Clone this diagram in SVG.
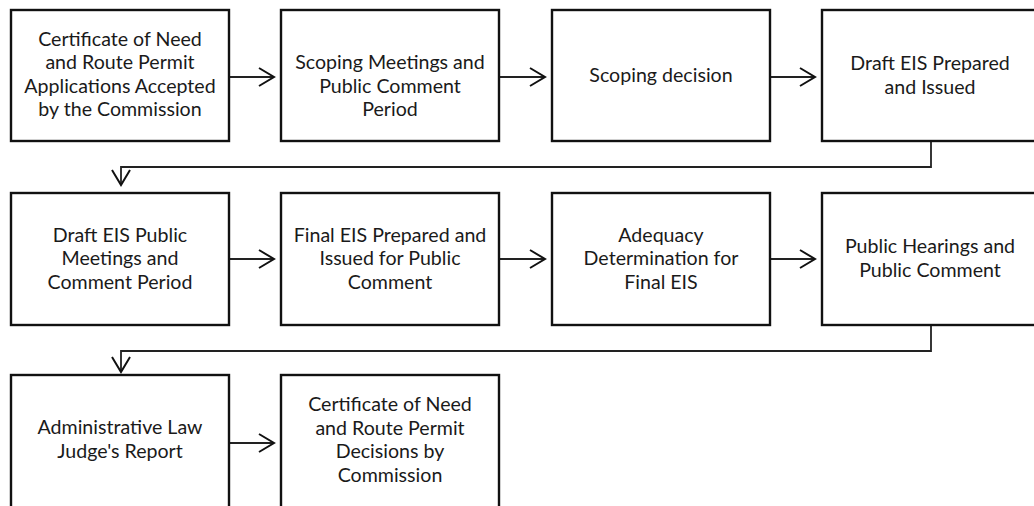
<svg xmlns="http://www.w3.org/2000/svg" width="1034" height="506" viewBox="0 0 1034 506">
<defs>
<style>
.box{fill:#fff;stroke:#111;stroke-width:2.4}
.t{font-family:Lato,"Liberation Sans",sans-serif;font-size:19.6px;fill:#1a1a1a;text-anchor:middle}
.c{fill:none;stroke:#222;stroke-width:1.8}
.ah{fill:none;stroke:#111;stroke-width:2}
</style>
<marker id="arr" viewBox="0 0 20 20" refX="17" refY="10" markerWidth="20" markerHeight="20" markerUnits="userSpaceOnUse" orient="auto">
<path d="M2,1 L17,10 L2,19" class="ah"/>
</marker>
</defs>
<rect width="1034" height="506" fill="#fff"/>
<g id="connectors">
<line class="c" x1="229" y1="77" x2="274" y2="77" marker-end="url(#arr)"/>
<line class="c" x1="499" y1="77" x2="545" y2="77" marker-end="url(#arr)"/>
<line class="c" x1="770" y1="77" x2="815" y2="77" marker-end="url(#arr)"/>
<path class="c" d="M931,142 V167 H121 V185" marker-end="url(#arr)"/>
<line class="c" x1="229" y1="259" x2="274" y2="259" marker-end="url(#arr)"/>
<line class="c" x1="499" y1="259" x2="545" y2="259" marker-end="url(#arr)"/>
<line class="c" x1="770" y1="259" x2="815" y2="259" marker-end="url(#arr)"/>
<path class="c" d="M931,326 V351 H121 V372" marker-end="url(#arr)"/>
<line class="c" x1="229" y1="443" x2="274" y2="443" marker-end="url(#arr)"/>
</g>
<g id="n1"><rect class="box" x="11" y="10" width="218" height="131"/>
<text class="t" x="120" y="46">Certificate of Need</text><text class="t" x="120" y="69">and Route Permit</text><text class="t" x="120" y="93">Applications Accepted</text><text class="t" x="120" y="116">by the Commission</text></g>
<g id="n2"><rect class="box" x="281" y="10" width="218" height="131"/>
<text class="t" x="390" y="69">Scoping Meetings and</text><text class="t" x="390" y="93">Public Comment</text><text class="t" x="390" y="116">Period</text></g>
<g id="n3"><rect class="box" x="552" y="10" width="218" height="131"/>
<text class="t" x="661" y="82">Scoping decision</text></g>
<g id="n4"><rect class="box" x="822" y="10" width="218" height="131"/>
<text class="t" x="930" y="70">Draft EIS Prepared</text><text class="t" x="930" y="94">and Issued</text></g>
<g id="n5"><rect class="box" x="11" y="193" width="218" height="132"/>
<text class="t" x="120" y="242">Draft EIS Public</text><text class="t" x="120" y="265">Meetings and</text><text class="t" x="120" y="289">Comment Period</text></g>
<g id="n6"><rect class="box" x="281" y="193" width="218" height="132"/>
<text class="t" x="390" y="242">Final EIS Prepared and</text><text class="t" x="390" y="265">Issued for Public</text><text class="t" x="390" y="289">Comment</text></g>
<g id="n7"><rect class="box" x="552" y="193" width="218" height="132"/>
<text class="t" x="661" y="242">Adequacy</text><text class="t" x="661" y="265">Determination for</text><text class="t" x="661" y="289">Final EIS</text></g>
<g id="n8"><rect class="box" x="822" y="193" width="218" height="132"/>
<text class="t" x="930" y="253">Public Hearings and</text><text class="t" x="930" y="277">Public Comment</text></g>
<g id="n9"><rect class="box" x="11" y="375" width="218" height="135"/>
<text class="t" x="120" y="434">Administrative Law</text><text class="t" x="120" y="458">Judge's Report</text></g>
<g id="n10"><rect class="box" x="281" y="375" width="218" height="135"/>
<text class="t" x="390" y="411">Certificate of Need</text><text class="t" x="390" y="435">and Route Permit</text><text class="t" x="390" y="458">Decisions by</text><text class="t" x="390" y="482">Commission</text></g>
</svg>
